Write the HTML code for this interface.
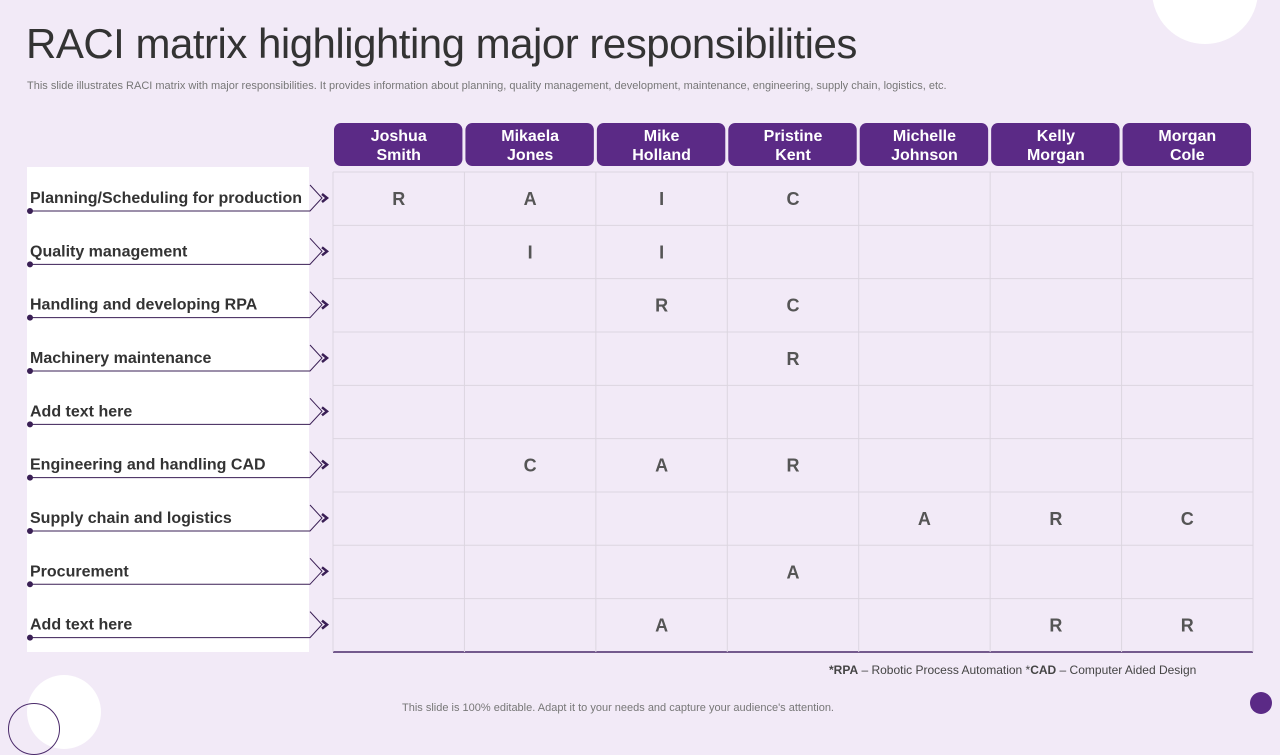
<!DOCTYPE html>
<html><head><meta charset="utf-8">
<style>
body{margin:0;width:1280px;height:720px;overflow:hidden;background:#f2eaf7;font-family:"Liberation Sans",sans-serif;position:relative}
#title{position:absolute;left:26px;top:20px;font-size:42px;color:#333;margin:0;font-weight:normal;letter-spacing:-0.5px}
#sub{position:absolute;left:27px;top:80px;font-size:11px;color:#777}
#panel{position:absolute;left:27px;top:167px;width:282px;height:485px;background:#fff}
.foot{position:absolute;font-size:12px;color:#555}
</style></head><body>
<div style="position:absolute;left:1152px;top:-62px;width:106px;height:106px;border-radius:50%;background:#fff"></div>
<div style="position:absolute;left:27px;top:675px;width:74px;height:74px;border-radius:50%;background:#fff"></div>
<div style="position:absolute;left:8px;top:703px;width:50px;height:50px;border-radius:50%;border:1px solid #4a2a6a"></div>
<div style="position:absolute;left:1250px;top:692px;width:22px;height:22px;border-radius:50%;background:#5b2a86"></div>
<h1 id="title">RACI matrix highlighting major responsibilities</h1>
<div id="sub">This slide illustrates RACI matrix with major responsibilities. It provides information about planning, quality management, development, maintenance, engineering, supply chain, logistics, etc.</div>
<div id="panel"></div>
<svg id="chart" width="1280" height="720" style="position:absolute;left:0;top:0"></svg>
<div class="foot" style="left:829px;top:663px;font-size:12px;color:#444"><b>*RPA</b> – Robotic Process Automation *<b>CAD</b> – Computer Aided Design</div>
<div class="foot" style="left:402px;top:702px;font-size:11px;color:#777">This slide is 100% editable. Adapt it to your needs and capture your audience's attention.</div>
<script>
const people=["Joshua|Smith","Mikaela|Jones","Mike|Holland","Pristine|Kent","Michelle|Johnson","Kelly|Morgan","Morgan|Cole"];
const tasks=["Planning/Scheduling for production","Quality management","Handling and developing RPA","Machinery maintenance","Add text  here","Engineering and handling CAD","Supply chain and logistics","Procurement","Add text  here"];
const roles=[
["R","A","I","C","","",""],
["","I","I","","","",""],
["","","R","C","","",""],
["","","","R","","",""],
["","","","","","",""],
["","C","A","R","","",""],
["","","","","A","R","C"],
["","","","A","","",""],
["","","A","","","R","R"]];
const NS="http://www.w3.org/2000/svg",svg=document.getElementById('chart');
const x0=333,cw=131.43,y0=172,rh=53.33;
const X=i=>x0+i*cw, Y=j=>y0+j*rh;
function mk(t,a,txt){const e=document.createElementNS(NS,t);for(const k in a)e.setAttribute(k,a[k]);if(txt!=null)e.textContent=txt;svg.appendChild(e);return e;}
people.forEach((p,i)=>{
 const r=mk('rect',{x:X(i)+1,y:123,width:cw-3,height:43,rx:7,fill:'#5b2a86'});
 
 
 p.split('|').forEach((s,k)=>{const t=mk('text',{x:X(i)+cw/2,y:141+k*19,'text-anchor':'middle',fill:'#fff','font-size':16,'font-weight':'bold','font-family':'Liberation Sans, sans-serif'},s);
 
 });
});
for(let j=0;j<=tasks.length;j++){const l=mk('line',{x1:x0,x2:X(7),y1:Y(j),y2:Y(j),stroke:j==tasks.length?'#4a2a6a':'#dcd6e0','stroke-width':j==tasks.length?1.5:1});
 
 }
for(let i=0;i<=7;i++){const l=mk('line',{x1:X(i),x2:X(i),y1:y0,y2:Y(tasks.length),stroke:'#dcd6e0'});
 
 }
tasks.forEach((t,j)=>{
 const ly=Y(j)+39;
 const tx=mk('text',{x:30,y:Y(j)+31,fill:'#333','font-size':16,'font-weight':'bold','font-family':'Liberation Sans, sans-serif'},t);
 
 
 const pl=mk('polyline',{points:`30,${ly} 310,${ly} 322,${ly-13} 310,${ly-26}`,fill:'none',stroke:'#3a1f55','stroke-width':1});
 
 
 const d=mk('circle',{cx:30,cy:ly,r:3,fill:'#3a1f55'});
 
 
 const c=mk('polyline',{points:`322,${ly-17} 327,${ly-13} 322,${ly-9}`,fill:'none',stroke:'#3a1f55','stroke-width':2.5});
 
 
 roles[j].forEach((r,i)=>{if(!r)return;
  const e=mk('text',{x:X(i)+cw/2,y:Y(j)+33,'text-anchor':'middle',fill:'#555','font-size':18,'font-weight':'bold','font-family':'Liberation Sans, sans-serif'},r);
  
  });
});
</script>
</body></html>
